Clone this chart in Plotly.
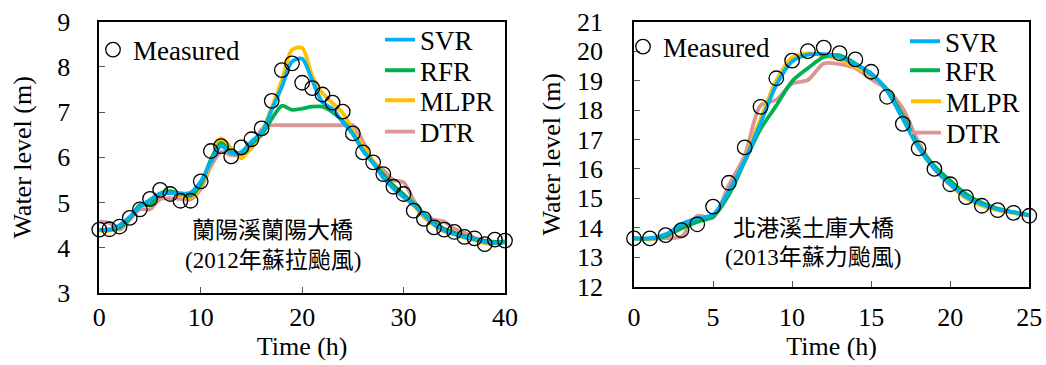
import plotly.graph_objects as go

# ---------------- Data: 蘭陽溪蘭陽大橋 (2012 蘇拉颱風) ----------------
t_left = list(range(0, 41))
meas_left = [4.40, 4.41, 4.47, 4.66, 4.85, 5.08, 5.28, 5.19, 5.04, 5.04,
             5.47, 6.14, 6.25, 6.02, 6.22, 6.40, 6.64, 7.25, 7.93, 8.08,
             7.65, 7.53, 7.39, 7.21, 7.01, 6.53, 6.11, 5.89, 5.63, 5.35,
             5.19, 4.82, 4.64, 4.45, 4.40, 4.35, 4.24, 4.21, 4.08, 4.18, 4.16]
svr_left = [4.39, 4.40, 4.50, 4.68, 4.90, 5.06, 5.20, 5.21, 5.20, 5.22,
            5.47, 5.90, 6.25, 6.10, 6.12, 6.35, 6.55, 7.05, 7.56, 8.12,
            8.18, 7.70, 7.22, 7.07, 6.78, 6.52, 6.15, 5.87, 5.55, 5.31,
            5.12, 4.95, 4.72, 4.52, 4.38, 4.30, 4.24, 4.19, 4.13, 4.11, 4.12]
rfr_left = [4.40, 4.40, 4.45, 4.65, 4.95, 4.95, 5.20, 5.25, 5.20, 5.15,
            5.40, 5.95, 6.32, 6.12, 6.08, 6.30, 6.50, 6.85, 7.14, 7.05,
            7.08, 7.12, 7.12, 7.00, 6.80, 6.52, 6.15, 5.88, 5.62, 5.38,
            5.18, 4.97, 4.75, 4.55, 4.42, 4.33, 4.26, 4.20, 4.15, 4.13, 4.14]
mlpr_left = [4.38, 4.38, 4.47, 4.68, 4.92, 5.05, 5.18, 5.22, 5.15, 5.12,
             5.35, 5.90, 6.42, 6.20, 5.98, 6.22, 6.55, 7.10, 7.70, 8.38,
             8.42, 7.80, 7.42, 7.20, 6.98, 6.60, 6.25, 5.92, 5.62, 5.35,
             5.12, 4.93, 4.68, 4.50, 4.36, 4.30, 4.22, 4.17, 4.10, 4.09, 4.12]
dtr_left = [4.58, 4.55, 4.40, 4.62, 4.85, 4.85, 5.08, 5.10, 5.08, 5.07,
            5.30, 5.80, 6.12, 6.05, 6.05, 6.20, 6.62, 6.71, 6.71, 6.71,
            6.71, 6.71, 6.71, 6.71, 6.71, 6.71, 6.35, 5.90, 5.72, 5.50,
            5.45, 5.05, 4.75, 4.62, 4.58, 4.42, 4.33, 4.22, 4.16, 4.12, 4.13]

# ---------------- Data: 北港溪土庫大橋 (2013 蘇力颱風) ----------------
t_right = list(range(0, 26))
meas_right = [13.64, 13.64, 13.75, 13.92, 14.12, 14.72, 15.53, 16.73, 18.11, 19.08,
              19.68, 20.00, 20.12, 19.93, 19.72, 19.30, 18.45, 17.53, 16.70, 16.00,
              15.48, 15.04, 14.75, 14.60, 14.51, 14.41]
svr_right = [13.64, 13.64, 13.78, 14.12, 14.32, 14.45, 15.25, 16.30, 17.55, 18.85,
             19.65, 19.88, 19.90, 19.80, 19.55, 19.25, 18.65, 17.70, 16.72, 16.00,
             15.48, 15.06, 14.80, 14.63, 14.53, 14.43]
rfr_right = [13.64, 13.64, 13.72, 13.98, 14.20, 14.38, 15.12, 16.25, 17.35, 18.15,
             18.98, 19.42, 19.80, 19.86, 19.58, 19.22, 18.70, 17.80, 16.78, 16.10,
             15.60, 15.15, 14.85, 14.65, 14.53, 14.43]
mlpr_right = [13.64, 13.62, 13.75, 14.05, 14.28, 14.38, 15.20, 16.35, 17.70, 19.00,
              19.78, 19.92, 19.85, 19.72, 19.45, 19.20, 18.65, 17.70, 16.72, 16.00,
              15.45, 15.00, 14.75, 14.60, 14.50, 14.42]
dtr_right = [13.64, 13.62, 13.65, 13.70, 14.40, 14.35, 15.45, 16.45, 18.15, 18.35,
             18.90, 19.02, 19.58, 19.56, 19.42, 19.05, 18.70, 18.05, 16.90, 16.05,
             15.60, 15.10, 14.77, 14.60, 14.51, 14.43]

left_labels = ["蘭陽溪蘭陽大橋", "(2012年蘇拉颱風)"]
right_labels = ["北港溪土庫大橋", "(2013年蘇力颱風)"]

MODELS = ["SVR", "RFR", "MLPR", "DTR"]
COLORS = {"SVR": "#00B0F0", "RFR": "#00B050", "MLPR": "#FFC000", "DTR": "#D99694"}
DRAW_ORDER = ["DTR", "MLPR", "RFR", "SVR"]
SERIF = "Liberation Serif"

W, H = 1046, 365
fig = go.Figure()

# legend placement (pixel coords: text start x, row centre y)
LEG_LEFT = {"Measured": (133, 50), "SVR": (420, 40), "RFR": (420, 70.7),
            "MLPR": (420, 100.7), "DTR": (420, 132)}
LEG_RIGHT = {"Measured": (663, 47), "SVR": (945, 41.7), "RFR": (945, 70.7),
             "MLPR": (946, 101.7), "DTR": (946, 133)}

legend_layout = {}
leg_counter = [0]


def new_legend(px, py):
    leg_counter[0] += 1
    key = "legend" if leg_counter[0] == 1 else f"legend{leg_counter[0]}"
    legend_layout[key] = dict(
        x=(px - 40) / W, y=1 - py / H, xanchor="left", yanchor="middle",
        bgcolor="rgba(0,0,0,0)", borderwidth=0,
        font=dict(family=SERIF, size=27, color="black"),
        itemwidth=30, tracegroupgap=0)
    return key


def add_panel(t, meas, models, xa, ya, legpos):
    keys = {name: new_legend(*legpos[name]) for name in ["Measured"] + MODELS}
    for name in DRAW_ORDER:
        fig.add_trace(go.Scatter(
            x=t, y=models[name], mode="lines", name=name,
            line=dict(color=COLORS[name], width=3.8, shape="spline", smoothing=0.8),
            xaxis=xa, yaxis=ya, legend=keys[name], showlegend=True, cliponaxis=False))
    fig.add_trace(go.Scatter(
        x=t, y=meas, mode="markers", name="Measured",
        marker=dict(symbol="circle-open", size=14.5, color="black", line=dict(width=1.3)),
        xaxis=xa, yaxis=ya, legend=keys["Measured"], showlegend=True, cliponaxis=False))


add_panel(t_left, meas_left,
          {"SVR": svr_left, "RFR": rfr_left, "MLPR": mlpr_left, "DTR": dtr_left},
          "x", "y", LEG_LEFT)
add_panel(t_right, meas_right,
          {"SVR": svr_right, "RFR": rfr_right, "MLPR": mlpr_right, "DTR": dtr_right},
          "x2", "y2", LEG_RIGHT)

tickfont = dict(family=SERIF, size=26, color="black")
titlefont = dict(family=SERIF, size=26, color="black")

axis_common = dict(showline=True, linecolor="black", linewidth=1.5, mirror=True,
                   ticks="inside", ticklen=6, tickcolor="#555555", tickwidth=1.2,
                   showgrid=False, zeroline=False, tickfont=tickfont, automargin=False)

fig.update_layout(
    width=W, height=H, margin=dict(l=0, r=0, t=0, b=0, autoexpand=False),
    paper_bgcolor="white", plot_bgcolor="white", showlegend=True,
    xaxis=dict(domain=[99.3 / W, 505 / W], range=[0, 40], tickvals=[0, 10, 20, 30, 40],
               anchor="y", ticklabelstandoff=0,
               title=dict(text="Time (h)", font=titlefont, standoff=0), **axis_common),
    yaxis=dict(domain=[1 - 293 / H, 1 - 21.7 / H], range=[3, 9], dtick=1,
               anchor="x", ticklabelstandoff=22,
               title=dict(text="Water level (m)", font=titlefont, standoff=18), **axis_common),
    xaxis2=dict(domain=[634 / W, 1029.3 / W], range=[0, 25], dtick=5,
                anchor="y2", ticklabelstandoff=6,
                title=dict(text="Time (h)", font=titlefont, standoff=0), **axis_common),
    yaxis2=dict(domain=[1 - 286.7 / H, 1 - 21.7 / H], range=[12, 21], dtick=1,
                anchor="x2", ticklabelstandoff=24,
                title=dict(text="Water level (m)", font=titlefont, standoff=9), **axis_common),
    **legend_layout,
)

cjk_font = dict(family="Liberation Serif, Noto Sans CJK TC", size=23, color="black")
for (cx, cy, txt) in [(272.7, 230, left_labels[0]), (272.7, 260, left_labels[1]),
                      (813, 228, right_labels[0]), (813, 257, right_labels[1])]:
    fig.add_annotation(x=cx / W, y=1 - cy / H, xref="paper", yref="paper",
                       text=txt, showarrow=False, font=cjk_font,
                       xanchor="center", yanchor="middle")

fig.write_html("out.html")
